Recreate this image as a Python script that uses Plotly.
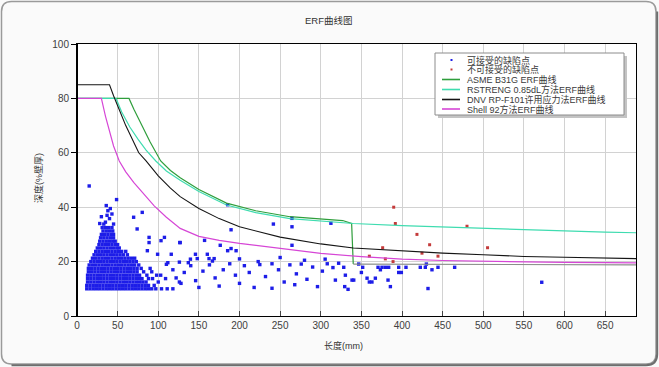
import plotly.graph_objects as go

# ---------------- data ----------------
asme_x = [0, 64, 70, 80, 90, 103, 115, 127, 150, 184, 220, 262, 300, 327, 338, 340]
asme_y = [80, 80, 76, 70, 64, 57, 53.5, 50.8, 46.5, 41.5, 38.7, 36.5, 35.6, 35.1, 34, 19.1]
asme_tail_x = [340, 690]
asme_tail_y = [19.1, 18.8]

rstreng_x = [0, 48, 55, 65, 75, 85, 97, 110, 127, 150, 184, 220, 262, 300, 340, 400, 450, 500, 550, 600, 650, 690]
rstreng_y = [80, 80, 75, 69.5, 65, 61, 57, 53.3, 49.9, 45.8, 40.8, 38, 35.8, 34.8, 34, 33.2, 32.7, 32.2, 31.7, 31.3, 30.8, 30.6]

dnv_x = [0, 40, 45, 50, 60, 76, 85, 100, 115, 127, 150, 175, 200, 250, 300, 340, 400, 450, 500, 550, 600, 650, 690]
dnv_y = [85, 85, 81, 77.5, 70, 60, 57, 51.5, 47, 43.9, 39.5, 35.8, 32.8, 29, 26.5, 25, 23.9, 23.1, 22.5, 21.9, 21.6, 21.3, 21.1]

shell_x = [0, 30, 35, 40, 45, 52, 60, 70, 82, 95, 110, 127, 150, 175, 200, 250, 300, 350, 400, 450, 500, 550, 600, 650, 690]
shell_y = [80, 80, 73.5, 67.5, 62.5, 57, 53, 49, 44.8, 40.5, 36.3, 32.2, 29.3, 27.8, 26.7, 24.8, 23, 21.8, 20.9, 20.4, 20.1, 19.9, 19.7, 19.6, 19.5]

# dense cluster of acceptable defects, one list of lengths per depth row
blob_depths = [10, 11.25, 12.5, 13.75, 15, 16.25, 17.5, 18.75, 20, 21.25, 22.5,
               23.75, 25, 26.25, 27.5, 28.75, 30, 31.25, 32.5]
blob_lengths = [
    [12, 16, 20, 24, 28, 32, 36, 40, 44, 48, 52, 56, 60, 64, 68, 72, 76, 80, 84, 88, 92, 97, 104, 111, 118],
    [12, 16, 20, 24, 28, 32, 36, 40, 44, 48, 52, 56, 60, 64, 68, 72, 76, 80, 84, 88, 95],
    [13, 17, 21, 25, 29, 33, 37, 41, 45, 49, 53, 57, 61, 65, 69, 73, 77, 81, 85, 100, 126],
    [13, 17, 21, 25, 29, 33, 37, 41, 45, 49, 53, 57, 61, 65, 69, 73, 77, 80, 88, 93, 109],
    [13, 17, 21, 25, 29, 33, 37, 41, 45, 49, 53, 57, 61, 65, 69, 73, 77, 86, 98, 103],
    [14, 18, 22, 26, 30, 34, 38, 42, 46, 50, 54, 58, 62, 66, 70, 74, 82, 92],
    [14, 18, 22, 26, 30, 34, 38, 42, 46, 50, 54, 58, 62, 66, 70, 74, 79, 90],
    [15, 19, 23, 27, 31, 35, 39, 43, 47, 51, 55, 59, 63, 67, 71, 76],
    [17, 21, 25, 29, 33, 37, 41, 45, 49, 53, 57, 61, 65, 69, 73],
    [19, 23, 27, 31, 35, 39, 43, 47, 51, 55, 59, 63, 67, 71],
    [21, 25, 29, 33, 37, 41, 45, 49, 53, 57, 62],
    [23, 27, 31, 35, 39, 43, 47, 51, 55, 60],
    [25, 29, 33, 37, 41, 45, 49, 52],
    [27, 31, 35, 39, 43, 47, 50],
    [28, 32, 36, 40, 44, 47],
    [29, 33, 37, 41, 45],
    [30, 34, 38, 42, 45],
    [32, 36, 40, 44],
    [31, 35, 39, 43],
]

# scattered acceptable defects
acc_x = [15, 36, 48.7, 80.3, 69.7, 74, 88.7, 88.7, 103.4, 107.6, 126.5, 86.6, 99.2, 116, 137, 111.8,
         35, 40, 30, 43, 38, 28, 45, 33, 41, 37,
         185.4, 241.7, 264.6, 264.6, 312.5, 189.6, 264.6, 157, 127, 176.3, 189.6, 195.8, 185.4,
         305.4, 223, 145.8, 148, 160.4, 162.5, 139.6, 166.7, 168.8,
         328.3, 351.6, 350, 318, 330.3, 329.5, 333.6, 338.5, 340.6, 357, 359.8, 363, 367.2, 370.5,
         373.4, 375.4, 379.5, 383.6, 382.8, 385.7, 395.9, 395.9, 399.2, 404.9, 422.5, 428.7, 436.9,
         444.3, 432, 464.8, 346.7, 430, 572,
         110, 118, 122, 128, 132, 140, 146, 150, 155, 163, 170, 175, 180, 188, 195, 200, 206, 212,
         218, 225, 232, 240, 248, 255, 262, 270, 276, 283, 290, 296, 302, 308, 315, 322, 250, 280,
         200, 126, 240, 268]
acc_y = [47.8, 40.6, 42.8, 38.1, 36.3, 32, 28.9, 27, 27.7, 28.9, 27, 24, 22.7, 22.7, 19.6, 19.6,
         34.5, 35.8, 36.5, 37.5, 38.7, 34, 33.8, 33.8, 39.5, 37,
         40.9, 33.8, 35.9, 32.8, 34.1, 31.7, 26, 27.8, 27, 26, 24.8, 24, 24,
         20.9, 20, 22.7, 21.1, 22.7, 21.1, 20.9, 20.2, 21.1,
         17.9, 17.9, 16, 13.2, 15, 10.8, 9.8, 13.2, 13.2, 13.9, 12.5, 12.5, 13.9, 17.9,
         17, 17.9, 17.9, 17.9, 13.2, 10.8, 17.9, 16, 16, 17.9, 17.9, 17.9, 17,
         17.9, 10.1, 17.9, 19.1, 19.1, 12.4,
         19, 17, 14, 12, 16, 18.5, 13, 10.5, 16.5, 18.8, 14, 11, 17, 19.2, 15, 12, 18.5, 16,
         10.5, 18.9, 14.5, 19.2, 17, 12.5, 18.8, 15.5, 19.1, 13.5, 18, 10.8, 16.5, 19.2, 17.8, 19.4, 21.5, 20.5,
         21, 19.8, 10.2, 11.5]

# unacceptable defects
rej_x = [389.8, 391.8, 418.4, 434, 376.2, 424.6, 444.3, 480, 505.3, 359.8, 379.5, 389]
rej_y = [40, 34, 30, 26.2, 25.1, 23.1, 22, 33, 25.1, 22, 21, 20]

x_ticks = [0, 50, 100, 150, 200, 250, 300, 350, 400, 450, 500, 550, 600, 650]
y_ticks = [0, 20, 40, 60, 80, 100]

legend_names = ["可接受的缺陷点", "不可接受的缺陷点", "ASME B31G ERF曲线",
                "RSTRENG 0.85dL方法ERF曲线", "DNV RP-F101许用应力法ERF曲线", "Shell 92方法ERF曲线"]

# ---------------- styling ----------------
W, H = 659, 367
PL, PR, PT, PB = 77, 636, 44, 316   # plot area in pixels
C_ASME, C_RST, C_DNV, C_SHELL = "#2f9e3c", "#3fdcb0", "#151515", "#d646d6"
C_ACC, C_REJ = "#1d1de8", "#c43a3a"
FONT = "Liberation Sans, Noto Sans CJK SC, sans-serif"

def fx(px):
    return (px - PL) / (PR - PL)

def fy(py):
    return (PB - py) / (PB - PT)

blob_x, blob_y = [], []
for d, row in zip(blob_depths, blob_lengths):
    blob_x.extend(row)
    blob_y.extend([d] * len(row))

fig = go.Figure()
fig.add_trace(go.Scatter(x=blob_x + acc_x, y=blob_y + acc_y, mode="markers", name=legend_names[0],
                         marker=dict(symbol="square", size=3.4, color=C_ACC, line=dict(width=0))))
fig.add_trace(go.Scatter(x=rej_x, y=rej_y, mode="markers", name=legend_names[1],
                         marker=dict(symbol="square", size=3.0, color=C_REJ, line=dict(width=0))))
fig.add_trace(go.Scatter(x=asme_x, y=asme_y, mode="lines", name=legend_names[2],
                         line=dict(color=C_ASME, width=1.2)))
fig.add_trace(go.Scatter(x=asme_tail_x, y=asme_tail_y, mode="lines", showlegend=False,
                         line=dict(color="#8a8f8a", width=1.2)))
fig.add_trace(go.Scatter(x=rstreng_x, y=rstreng_y, mode="lines", name=legend_names[3],
                         line=dict(color=C_RST, width=1.2)))
fig.add_trace(go.Scatter(x=dnv_x, y=dnv_y, mode="lines", name=legend_names[4],
                         line=dict(color=C_DNV, width=1.1)))
fig.add_trace(go.Scatter(x=shell_x, y=shell_y, mode="lines", name=legend_names[5],
                         line=dict(color=C_SHELL, width=1.2)))

shapes = []
annotations = []

# window frame (rounded)
x0, y0, x1, y1, r = 1.5, 1.5, 656.0, 364.0, 10
def P(px, py):
    return f"{fx(px):.5f},{fy(py):.5f}"
path = (f"M {P(x0 + r, y0)} L {P(x1 - r, y0)} Q {P(x1, y0)} {P(x1, y0 + r)} "
        f"L {P(x1, y1 - r)} Q {P(x1, y1)} {P(x1 - r, y1)} L {P(x0 + r, y1)} "
        f"Q {P(x0, y1)} {P(x0, y1 - r)} L {P(x0, y0 + r)} Q {P(x0, y0)} {P(x0 + r, y0)} Z")
shapes.append(dict(type="path", xref="paper", yref="paper", path=path,
                   line=dict(color="#9a9a9a", width=1.5), layer="below"))
spath = (f"M {P(x1 + 1.2, y0 + r)} L {P(x1 + 1.2, y1 - r)} Q {P(x1 + 1.2, y1 + 1.2)} {P(x1 - r, y1 + 1.2)} "
         f"L {P(x0 + r, y1 + 1.2)}")
shapes.append(dict(type="path", xref="paper", yref="paper", path=spath,
                   line=dict(color="#6e6e6e", width=2), layer="below"))

# thicker left axis
shapes.append(dict(type="line", xref="paper", yref="paper", x0=0, x1=0, y0=0, y1=1,
                   line=dict(color="black", width=2), layer="above"))

# manual legend
lx0, lx1, ly0, ly1 = 435, 624, 53, 115
shapes.append(dict(type="rect", xref="paper", yref="paper", x0=fx(lx0 + 3), x1=fx(lx1 + 3),
                   y0=fy(ly1 + 3), y1=fy(ly0 + 3), fillcolor="#c4c4c4", line=dict(width=0), layer="above"))
shapes.append(dict(type="rect", xref="paper", yref="paper", x0=fx(lx0), x1=fx(lx1),
                   y0=fy(ly1), y1=fy(ly0), fillcolor="white", line=dict(color="#8c8c8c", width=1),
                   layer="above"))
rows = [60, 69.5, 79.5, 89.5, 99.5, 109]
mark_cols = [C_ACC, C_REJ]
line_cols = [C_ASME, C_RST, C_DNV, C_SHELL]
for i, (name, ry) in enumerate(zip(legend_names, rows)):
    if i < 2:
        shapes.append(dict(type="rect", xref="paper", yref="paper", x0=fx(450.5), x1=fx(452.5),
                           y0=fy(ry + 1), y1=fy(ry - 1), fillcolor=mark_cols[i],
                           line=dict(width=0), layer="above"))
    else:
        shapes.append(dict(type="line", xref="paper", yref="paper", x0=fx(442), x1=fx(460),
                           y0=fy(ry), y1=fy(ry), line=dict(color=line_cols[i - 2], width=1.6),
                           layer="above"))
    annotations.append(dict(text=name, xref="paper", yref="paper", x=fx(465), y=fy(ry),
                            xanchor="left", yanchor="middle", showarrow=False,
                            font=dict(family=FONT, size=9, color="#3a3a3a")))

# titles
annotations.append(dict(text="ERF曲线图", xref="paper", yref="paper", x=fx(329), y=fy(20),
                        xanchor="center", yanchor="middle", showarrow=False,
                        font=dict(family=FONT, size=9.5, color="#333333")))
annotations.append(dict(text="长度(mm)", xref="paper", yref="paper", x=fx(343), y=fy(345),
                        xanchor="center", yanchor="middle", showarrow=False,
                        font=dict(family=FONT, size=9, color="#333333")))
annotations.append(dict(text="深度(%壁厚)", xref="paper", yref="paper", x=fx(38), y=fy(178),
                        xanchor="center", yanchor="middle", showarrow=False, textangle=-90,
                        font=dict(family=FONT, size=9, color="#333333")))

fig.update_layout(
    width=W, height=H,
    margin=dict(l=PL, r=W - PR, t=PT, b=H - PB, pad=0),
    paper_bgcolor="#fafafa", plot_bgcolor="white",
    showlegend=False,
    shapes=shapes, annotations=annotations,
    font=dict(family=FONT, size=10, color="#404040"),
)
fig.update_xaxes(range=[0, 688], tickvals=x_ticks, ticktext=[str(v) for v in x_ticks],
                 showgrid=True, gridcolor="#d2d2d2", gridwidth=1, zeroline=False,
                 ticks="inside", ticklen=5, tickcolor="#444444",
                 showline=True, linecolor="black", linewidth=1, mirror=True,
                 tickfont=dict(family=FONT, size=10, color="#404040"))
fig.update_yaxes(range=[0, 100], tickvals=y_ticks, ticktext=[str(v) for v in y_ticks],
                 showgrid=True, gridcolor="#d2d2d2", gridwidth=1, zeroline=False,
                 ticks="outside", ticklen=5, tickcolor="black",
                 showline=True, linecolor="black", linewidth=1, mirror=True,
                 tickfont=dict(family=FONT, size=10, color="#404040"))

fig.write_html("out.html", config={"displayModeBar": False},
               post_script="document.body.style.margin='0';document.body.style.overflow='hidden';")
